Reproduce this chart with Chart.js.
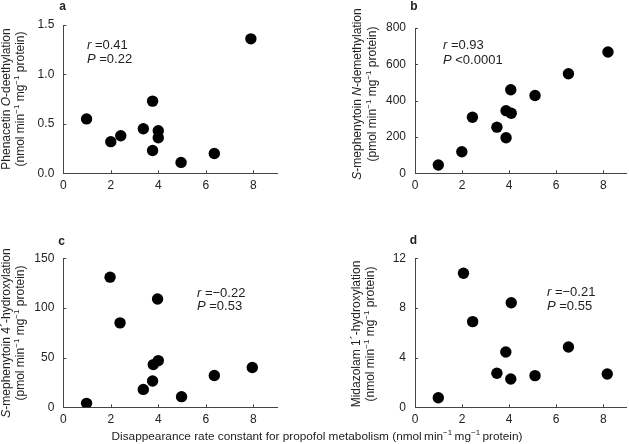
<!DOCTYPE html>
<html><head><meta charset="utf-8">
<script src="https://cdn.jsdelivr.net/npm/chart.js@4/dist/chart.umd.min.js"></script>
<style>
html,body{margin:0;padding:0;background:#fff;}
#wrap{position:relative;width:629px;height:444px;overflow:hidden;background:#fff;}
canvas{position:absolute;}
#xtitle{position:absolute;left:0;width:634px;top:429px;text-align:center;font:11.8px "Liberation Sans",Arial,sans-serif;color:#222;white-space:nowrap;line-height:14px;}
#xtitle sup{font-size:8px;vertical-align:0;position:relative;top:-5px;line-height:0;}
</style></head><body>
<div id="wrap">
<canvas id="ca" width="310" height="215" style="left:0;top:0"></canvas>
<canvas id="cb" width="319" height="215" style="left:310px;top:0"></canvas>
<canvas id="cc" width="310" height="229" style="left:0;top:215px"></canvas>
<canvas id="cd" width="319" height="229" style="left:310px;top:215px"></canvas>
<div id="xtitle">Disappearance rate constant for propofol metabolism (nmol&#8201;min<sup>−1</sup>&#8201;mg<sup>−1</sup>&#8201;protein)</div>
</div>
<script>
// ---- data ----
const xTicks = [0, 2, 4, 6, 8];
const xTickLabels = ['0', '2', '4', '6', '8'];

const xA = [0.98, 2.0, 2.42, 3.37, 3.76, 4.0, 4.0, 3.76, 4.96, 6.36, 7.9];
const yA = [0.55, 0.32, 0.38, 0.45, 0.73, 0.43, 0.36, 0.23, 0.11, 0.20, 1.36];
const yTicksA = [0, 0.5, 1.0, 1.5];
const yTickLabelsA = ['0.0', '0.5', '1.0', '1.5'];

const xB = [0.99, 1.99, 2.44, 3.48, 3.87, 3.87, 4.09, 4.07, 5.1, 6.52, 8.2];
const yB = [46, 119, 309, 254, 344, 196, 331, 460, 428, 548, 668];
const yTicksB = [0, 200, 400, 600, 800];
const yTickLabelsB = ['0', '200', '400', '600', '800'];

const xC = [0.98, 1.97, 2.39, 3.37, 3.76, 3.79, 4.0, 3.97, 4.98, 6.36, 7.96];
const yC = [4, 131, 85, 18, 26.5, 43, 47, 109, 10.7, 32, 40];
const yTicksC = [0, 50, 100, 150];
const yTickLabelsC = ['0', '50', '100', '150'];

const xD = [0.99, 2.06, 2.45, 3.48, 3.86, 4.09, 4.07, 5.1, 6.52, 8.17];
const yD = [0.77, 10.79, 6.9, 2.74, 4.45, 8.42, 2.28, 2.55, 4.86, 2.68];
const yTicksD = [0, 4, 8, 12];
const yTickLabelsD = ['0', '4', '8', '12'];

// ---- style ----
const FF = '"Liberation Sans", Arial, sans-serif';
const AX = '#444';
const TX = '#222';

function fontStr(style, size, weight) {
  return (style === 'i' ? 'italic ' : '') + (weight || 'normal') + ' ' + size + 'px ' + FF;
}
function segFont(seg, size) {
  if (seg[1] === 'sup') return fontStr('n', 8);
  return fontStr(seg[1], size);
}
function richWidth(ctx, segs, size) {
  let w = 0;
  segs.forEach(s => { ctx.font = segFont(s, size); w += ctx.measureText(s[0]).width; });
  return w;
}
function drawRich(ctx, segs, x, y, size, align) {
  const w = richWidth(ctx, segs, size);
  let cx = align === 'center' ? x - w / 2 : x;
  ctx.textBaseline = 'middle';
  ctx.textAlign = 'left';
  segs.forEach(s => {
    ctx.font = segFont(s, size);
    const dy = s[1] === 'sup' ? -4 : 0;
    ctx.fillText(s[0], cx, y + dy);
    cx += ctx.measureText(s[0]).width;
  });
}

function makePanel(o) {
  const cv = document.getElementById(o.id);
  const W = cv.width, H = cv.height;
  const px = o.pos[0], py = o.pos[1];
  const area = { l: o.area[0] - px, r: o.area[1] - px, t: o.area[2] - py, b: o.area[3] - py };
  const deco = {
    id: 'deco',
    afterDraw(chart) {
      const ctx = chart.ctx;
      const xs = chart.scales.x, ys = chart.scales.y;
      const ca = chart.chartArea;
      ctx.save();
      // inward tick marks
      ctx.strokeStyle = AX;
      ctx.lineWidth = 1;
      ctx.beginPath();
      xTicks.forEach(v => {
        const p = Math.round(xs.getPixelForValue(v)) + 0.5;
        ctx.moveTo(p, ca.bottom);
        ctx.lineTo(p, ca.bottom - 3);
      });
      o.yTicks.forEach(v => {
        const p = Math.round(ys.getPixelForValue(v)) + 0.5;
        ctx.moveTo(ca.left, p);
        ctx.lineTo(ca.left + 3, p);
      });
      ctx.stroke();
      ctx.fillStyle = TX;
      // panel letter
      ctx.font = fontStr('n', 12, 'bold');
      ctx.textAlign = 'center';
      ctx.textBaseline = 'middle';
      ctx.fillText(o.letter, o.letterPos[0] - px, o.letterPos[1] - py);
      // r / P annotation
      drawRich(ctx, [['r', 'i'], [' =' + o.r, 'n']], o.ann[0] - px, o.ann[1] - py, 13, 'left');
      drawRich(ctx, [['P', 'i'], [' ' + o.p, 'n']], o.ann[0] - px, o.ann[2] - py, 13, 'left');
      // y title (rotated)
      [0, 1].forEach(k => {
        ctx.save();
        ctx.translate(o.yTitle[k] - px, o.yTitle[2] - py);
        ctx.rotate(-Math.PI / 2);
        drawRich(ctx, o.titleLines[k], 0, 0, 12, 'center');
        ctx.restore();
      });
      ctx.restore();
    }
  };
  new Chart(cv, {
    type: 'scatter',
    data: {
      datasets: [{
        data: o.x.map((v, i) => ({ x: v, y: o.y[i] })),
        pointRadius: 5.7, pointHoverRadius: 5.7,
        backgroundColor: '#000', borderWidth: 0
      }]
    },
    options: {
      responsive: false, animation: false, events: [],
      layout: { autoPadding: false, padding: { left: 0, top: area.t, right: W - area.r, bottom: 0 } },
      plugins: { legend: { display: false }, tooltip: { enabled: false } },
      scales: {
        x: {
          type: 'linear', min: 0, max: 9,
          grid: { display: false, drawTicks: false },
          border: { display: true, color: AX, width: 1 },
          afterBuildTicks: s => { s.ticks = xTicks.map(v => ({ value: v })); },
          afterFit: s => { s.height = H - area.b; },
          ticks: { padding: 5, color: TX, font: { family: FF, size: 12 }, maxRotation: 0, autoSkip: false,
                   callback: (v, i) => xTickLabels[i] }
        },
        y: {
          type: 'linear', min: o.yTicks[0], max: o.yTicks[o.yTicks.length - 1],
          grid: { display: false, drawTicks: false },
          border: { display: true, color: AX, width: 1 },
          afterBuildTicks: s => { s.ticks = o.yTicks.map(v => ({ value: v })); },
          afterFit: s => { s.width = area.l; },
          ticks: { padding: 9, color: TX, font: { family: FF, size: 12 }, autoSkip: false,
                   callback: (v, i) => o.yLabels[i] }
        }
      }
    },
    plugins: [deco]
  });
}

const nmolLine = [['(nmol min', 'n'], ['−1', 'sup'], [' mg', 'n'], ['−1', 'sup'], [' protein)', 'n']];
const pmolLine = [['(pmol min', 'n'], ['−1', 'sup'], [' mg', 'n'], ['−1', 'sup'], [' protein)', 'n']];

makePanel({
  id: 'ca', pos: [0, 0], area: [63.3, 277, 25, 173.3],
  x: xA, y: yA, yTicks: yTicksA, yLabels: yTickLabelsA,
  letter: 'a', letterPos: [62.7, 7], r: '0.41', p: '=0.22', ann: [87, 45, 59],
  yTitle: [7, 21, 99],
  titleLines: [[['Phenacetin ', 'n'], ['O', 'i'], ['-deethylation', 'n']], nmolLine]
});
makePanel({
  id: 'cb', pos: [310, 0], area: [415, 626.8, 28, 173.3],
  x: xB, y: yB, yTicks: yTicksB, yLabels: yTickLabelsB,
  letter: 'b', letterPos: [414, 7], r: '0.93', p: '<0.0001', ann: [443, 45, 60],
  yTitle: [358, 373, 94],
  titleLines: [[['S', 'i'], ['-mephenytoin ', 'n'], ['N', 'i'], ['-demethylation', 'n']], pmolLine]
});
makePanel({
  id: 'cc', pos: [0, 215], area: [63.3, 277, 258.3, 407.3],
  x: xC, y: yC, yTicks: yTicksC, yLabels: yTickLabelsC,
  letter: 'c', letterPos: [61.7, 241.7], r: '−0.22', p: '=0.53', ann: [197, 293, 306.5],
  yTitle: [6.5, 21, 333],
  titleLines: [[['S', 'i'], ['-mephenytoin 4´-hydroxylation', 'n']], pmolLine]
});
makePanel({
  id: 'cd', pos: [310, 215], area: [415, 626.8, 258.3, 407.3],
  x: xD, y: yD, yTicks: yTicksD, yLabels: yTickLabelsD,
  letter: 'd', letterPos: [413.3, 240.7], r: '−0.21', p: '=0.55', ann: [547, 292.7, 306],
  yTitle: [357, 371, 334],
  titleLines: [[['Midazolam 1´-hydroxylation', 'n']], nmolLine]
});
</script>
</body></html>
